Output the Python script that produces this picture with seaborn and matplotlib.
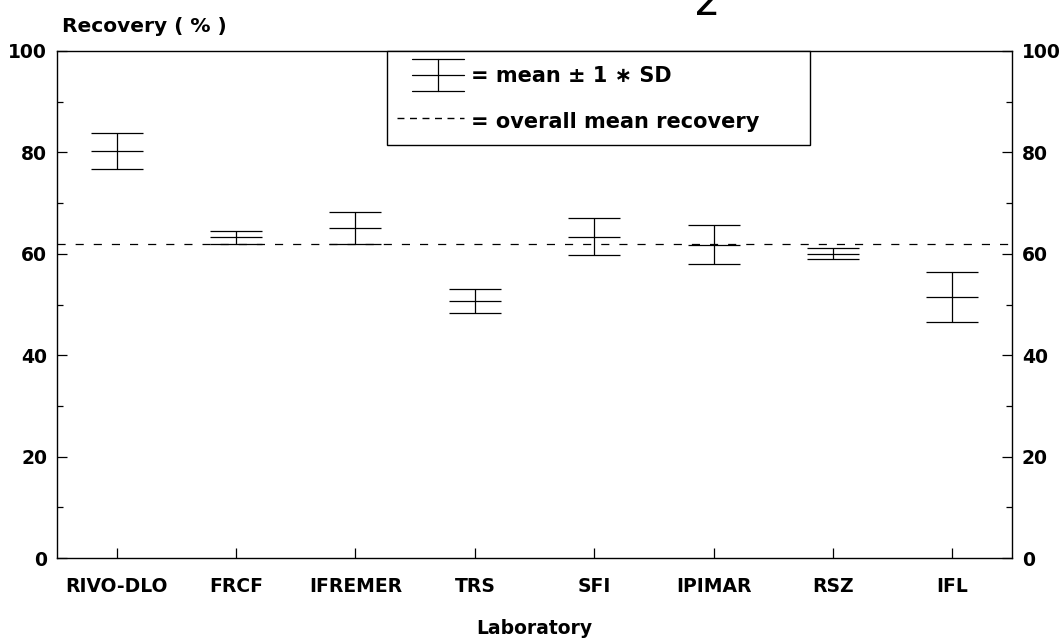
import numpy as np
import pandas as pd
import matplotlib
matplotlib.use("Agg")
import matplotlib.pyplot as plt
import seaborn as sns
from matplotlib.lines import Line2D
from matplotlib.legend_handler import HandlerBase
from matplotlib.ticker import MultipleLocator

# ---- data ----
laboratories = ["RIVO-DLO", "FRCF", "IFREMER", "TRS", "SFI", "IPIMAR", "RSZ", "IFL"]
mean_recovery = [80.3, 63.25, 65.15, 50.7, 63.35, 61.8, 60.05, 51.5]
sd_recovery = [3.6, 1.25, 3.15, 2.3, 3.65, 3.8, 1.15, 4.9]
overall_mean = 62.0
y_ticks = [0, 20, 40, 60, 80, 100]

df = pd.DataFrame({"Laboratory": laboratories, "Recovery": mean_recovery, "SD": sd_recovery})

sns.set_style("ticks")
plt.rcParams["font.family"] = ["DejaVu Sans"]
plt.rcParams["font.weight"] = "bold"
for k in ["text.color", "axes.labelcolor", "xtick.color", "ytick.color", "axes.edgecolor"]:
    plt.rcParams[k] = "black"
FS = 13.5

fig = plt.figure(figsize=(10.61, 6.41), dpi=100)
ax = fig.add_axes([57 / 1061, 1 - 558 / 641, (1012 - 57) / 1061, (558 - 51) / 641])

# mean markers via seaborn
sns.pointplot(data=df, x="Laboratory", y="Recovery", order=laboratories,
              linestyle="none", marker="_", markersize=38, markeredgewidth=0.9,
              color="black", errorbar=None, ax=ax)

# SD bars
xpos = np.arange(len(laboratories))
ax.errorbar(xpos, df["Recovery"], yerr=df["SD"], fmt="none", ecolor="black",
            elinewidth=0.9, capsize=19, capthick=0.9)

# overall mean line
ax.axhline(overall_mean, color="black", lw=0.9, ls=(0, (6.5, 8)))

ax.set_xlim(-0.5, len(laboratories) - 0.5)
ax.set_ylim(0, 100)
ax.set_yticks(y_ticks)
ax.yaxis.set_minor_locator(MultipleLocator(10))

for s in ax.spines.values():
    s.set_visible(True)
    s.set_linewidth(1.0)
    s.set_color("black")

ax.tick_params(axis="y", which="major", direction="in", length=7, width=0.9,
               left=True, right=True, labelleft=True, labelright=True,
               labelsize=FS, pad=7, colors="black")
ax.tick_params(axis="y", which="minor", direction="in", length=4, width=0.9,
               left=True, right=True, colors="black")
ax.tick_params(axis="x", which="major", direction="in", length=7, width=0.9,
               top=False, labelsize=FS, pad=14, colors="black")
for lab in ax.get_xticklabels() + ax.get_yticklabels():
    lab.set_fontweight("bold")

ax.set_xlabel("Laboratory", fontsize=FS, fontweight="bold", labelpad=16, color="black")
ax.set_ylabel("")
ax.text(0.005, 1 + 24 / 507, "Recovery ( % )", transform=ax.transAxes,
        ha="left", va="center", fontsize=14.5, fontweight="bold", color="black")

# figure number fragment at top (cut off in the original scan)
fig.text(707 / 1061, 1 - 15 / 641, "2", ha="center", va="baseline",
         fontsize=30, fontweight="normal", color="black")


# ---- legend ----
class SDHandler(HandlerBase):
    def create_artists(self, legend, orig_handle, xdescent, ydescent,
                       width, height, fontsize, trans):
        x0 = -xdescent + width * 0.22
        x1 = -xdescent + width
        yc = -ydescent + height / 2
        half = 11.5
        xm = (x0 + x1) / 2
        arts = []
        for yy in (yc - half, yc, yc + half):
            arts.append(Line2D([x0, x1], [yy, yy], color="black", lw=0.9))
        arts.append(Line2D([xm, xm], [yc - half, yc + half], color="black", lw=0.9))
        for a in arts:
            a.set_transform(trans)
        return arts


LFS = 15
sd_handle = Line2D([], [], color="black")
mean_handle = Line2D([], [], color="black", lw=1.0, ls=(0, (5, 4)))
x0_ax = (387 - 57) / 955
w_ax = (810 - 387) / 955
leg = ax.legend([sd_handle, mean_handle],
                ["= mean \u00b1 1 \u2217 SD", "= overall mean recovery"],
                handler_map={sd_handle: SDHandler()},
                loc="upper left", bbox_to_anchor=(x0_ax, 0.0, w_ax, 1.0),
                mode="expand",
                borderaxespad=0, frameon=True, fancybox=False, framealpha=1,
                edgecolor="black", handlelength=3.2,
                handletextpad=0.35, borderpad=0.5, labelspacing=0.95,
                handleheight=1.6, prop={"weight": "bold", "size": LFS})
leg.get_frame().set_linewidth(1.0)

fig.savefig("out.png", dpi=100)
